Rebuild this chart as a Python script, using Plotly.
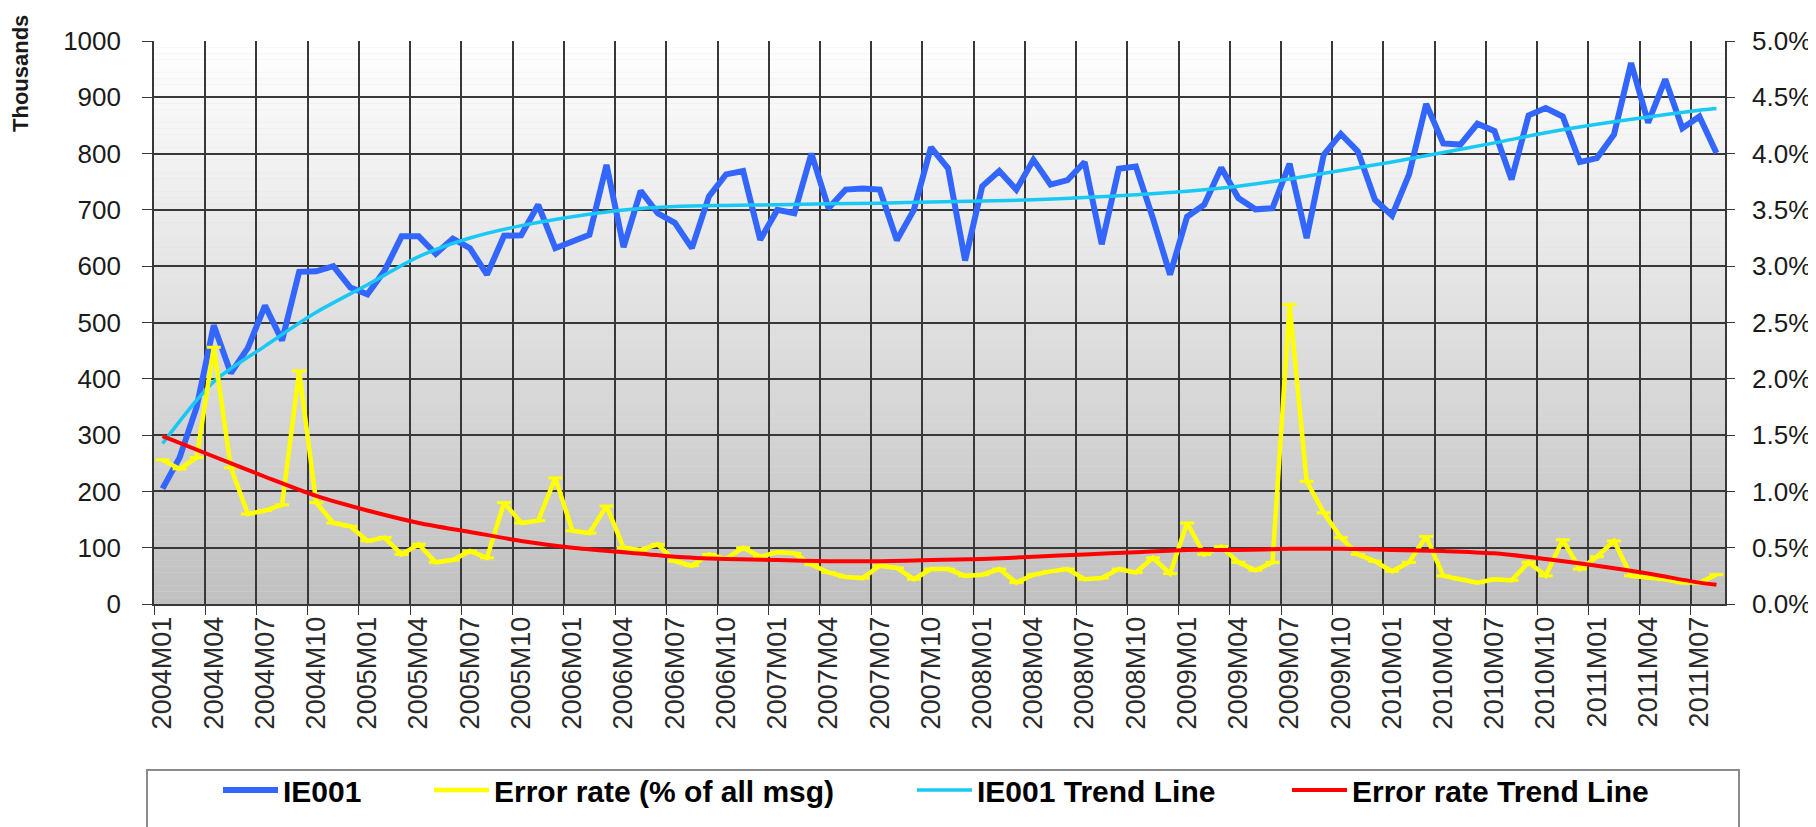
import plotly.graph_objects as go

# --- data -------------------------------------------------------------------
months = [f"{y}M{m:02d}" for y in range(2004, 2012) for m in range(1, 13)][:92]

ie001 = [
    205, 260, 350, 495, 410, 455, 530, 468, 590, 591, 600, 562,
    550, 592, 653, 653, 622, 649, 632, 585, 654, 655, 709, 632,
    644, 656, 780, 634, 734, 694, 677, 632, 724, 763, 769, 647,
    700, 694, 800, 703, 736, 738, 736, 646, 700, 811, 774, 610,
    742, 769, 736, 789, 745, 753, 785, 639, 773, 777, 685, 585,
    688, 709, 775, 721, 701, 703, 782, 650, 798, 835, 804, 718,
    690, 763, 888, 818, 816, 853, 840, 754, 868, 881, 866, 785,
    792, 834, 961, 855, 932, 845, 866, 801,
]

error_rate = [
    1.28, 1.20, 1.30, 2.28, 1.21, 0.80, 0.83, 0.88, 2.07, 0.90, 0.72, 0.69,
    0.56, 0.59, 0.44, 0.53, 0.37, 0.39, 0.47, 0.41, 0.90, 0.72, 0.74, 1.12,
    0.65, 0.63, 0.87, 0.50, 0.48, 0.53, 0.38, 0.34, 0.44, 0.40, 0.50, 0.42,
    0.46, 0.45, 0.35, 0.28, 0.24, 0.23, 0.34, 0.32, 0.22, 0.31, 0.31, 0.25,
    0.26, 0.31, 0.19, 0.26, 0.29, 0.31, 0.22, 0.23, 0.31, 0.28, 0.41, 0.27,
    0.72, 0.44, 0.51, 0.37, 0.30, 0.37, 2.66, 1.09, 0.81, 0.59, 0.44, 0.38,
    0.29, 0.37, 0.60, 0.25, 0.22, 0.19, 0.22, 0.21, 0.37, 0.25, 0.57, 0.31,
    0.42, 0.56, 0.25, 0.24, 0.22, 0.19, 0.19, 0.26,
]

# trend lines read every quarter (plus the last month)
trend_months = months[0:91:3] + [months[91]]
ie001_trend = [
    285, 395, 458, 518, 567, 617, 650, 672, 688, 700, 706, 708,
    709, 711, 712, 714, 716, 718, 722, 727, 733, 742, 755, 770,
    785, 802, 819, 837, 852, 865, 877, 880,
]
error_trend = [
    1.49, 1.31, 1.13, 0.96, 0.83, 0.72, 0.64, 0.56, 0.50, 0.46, 0.42, 0.40,
    0.39, 0.38, 0.38, 0.39, 0.40, 0.42, 0.44, 0.46, 0.48, 0.48, 0.49, 0.49,
    0.48, 0.47, 0.45, 0.40, 0.34, 0.27, 0.19, 0.17,
]

# --- layout geometry (pixels) ----------------------------------------------
W, H = 1816, 827
ML, MR, MT, MB = 146, 99, 33, 231
PW, PH = W - ML - MR, H - MT - MB
FONT = "Liberation Sans, Arial, sans-serif"


def px_x(p):
    return (p - ML) / PW


def px_y(p):
    return (H - MB - p) / PH


fig = go.Figure()

fig.add_trace(go.Scatter(
    x=months, y=ie001, name="IE001", mode="lines",
    line=dict(color="#3366ff", width=6), legend="legend", showlegend=True))
fig.add_trace(go.Scatter(
    x=trend_months, y=ie001_trend, name="IE001 Trend Line", mode="lines",
    line=dict(color="#19c8f5", width=3.5, shape="spline", smoothing=0.8),
    legend="legend3", showlegend=True))
fig.add_trace(go.Scatter(
    x=months, y=error_rate, name="Error rate (% of all msg)", mode="lines+markers",
    line=dict(color="#ffff00", width=4.5),
    marker=dict(symbol="line-ew", size=10, line=dict(color="#ffff00", width=3)),
    yaxis="y2", legend="legend2", showlegend=True))
fig.add_trace(go.Scatter(
    x=trend_months, y=error_trend, name="Error rate Trend Line", mode="lines",
    line=dict(color="#ff0000", width=4, shape="spline", smoothing=0.8),
    yaxis="y2", legend="legend4", showlegend=True))

# gradient background of the plot area (white at top -> grey at bottom)
bands = 90
shapes = []
for k in range(bands):
    g = round(255 - (255 - 192) * (k + 0.5) / bands)
    shapes.append(dict(
        type="rect", xref="x domain", yref="y domain",
        x0=0, x1=1, y0=1 - (k + 1) / bands, y1=1 - k / bands,
        fillcolor=f"rgb({g},{g},{g})", line=dict(width=0), layer="below"))

# legend frame
shapes.append(dict(
    type="rect", xref="paper", yref="paper",
    x0=px_x(139), x1=px_x(1731), y0=px_y(900), y1=px_y(762),
    line=dict(color="#8a8a8a", width=2), fillcolor="rgba(0,0,0,0)"))

grid = "#383838"
tickfont = dict(family=FONT, size=26, color="#1a1a1a")

fig.update_layout(
    width=W, height=H,
    margin=dict(l=ML, r=MR, t=MT, b=MB),
    paper_bgcolor="white", plot_bgcolor="#dfdfdf",
    font=dict(family=FONT, color="black"),
    showlegend=True,
    shapes=shapes,
    xaxis=dict(
        type="category", categoryorder="array", categoryarray=months,
        range=[-0.5, 91.5], tickmode="linear", tick0=0, dtick=3,
        tickson="boundaries", showgrid=True, gridcolor=grid, gridwidth=1.6,
        ticks="outside", ticklen=9, tickcolor=grid, tickangle=-90,
        tickfont=dict(family=FONT, size=27, color="#2a2a2a"),
        showline=True, linecolor=grid, linewidth=2, zeroline=False),
    yaxis=dict(
        range=[0, 1000], dtick=100, showgrid=True, gridcolor=grid, gridwidth=1.6,
        ticks="outside", ticklen=10, tickcolor=grid, tickfont=tickfont,
        ticklabelstandoff=16,
        showline=True, linecolor=grid, linewidth=1.6, zeroline=False),
    yaxis2=dict(
        overlaying="y", side="right", range=[0, 5], dtick=0.5,
        tickformat=".1f", ticksuffix="%", showgrid=False,
        ticks="outside", ticklen=8, tickcolor=grid, tickfont=tickfont,
        ticklabelstandoff=12,
        showline=True, linecolor=grid, linewidth=1.6, zeroline=False),
    annotations=[dict(
        text="Thousands", xref="paper", yref="paper",
        x=px_x(12), y=px_y(66), textangle=-90, showarrow=False,
        xanchor="center", yanchor="middle",
        font=dict(family=FONT, size=22, color="#1a1a1a", weight="bold"))],
)

legend_font = dict(family=FONT, size=30, color="black", weight="bold")
for key, left in [("legend", 223), ("legend2", 434), ("legend3", 917), ("legend4", 1292)]:
    fig.update_layout({key: dict(
        x=(left - 13) / W, y=(H - 782) / H, xref="container", yref="container",
        xanchor="left", yanchor="middle", orientation="h", itemwidth=55,
        bgcolor="rgba(0,0,0,0)", borderwidth=0, font=legend_font)})

fig.write_html("out.html")
